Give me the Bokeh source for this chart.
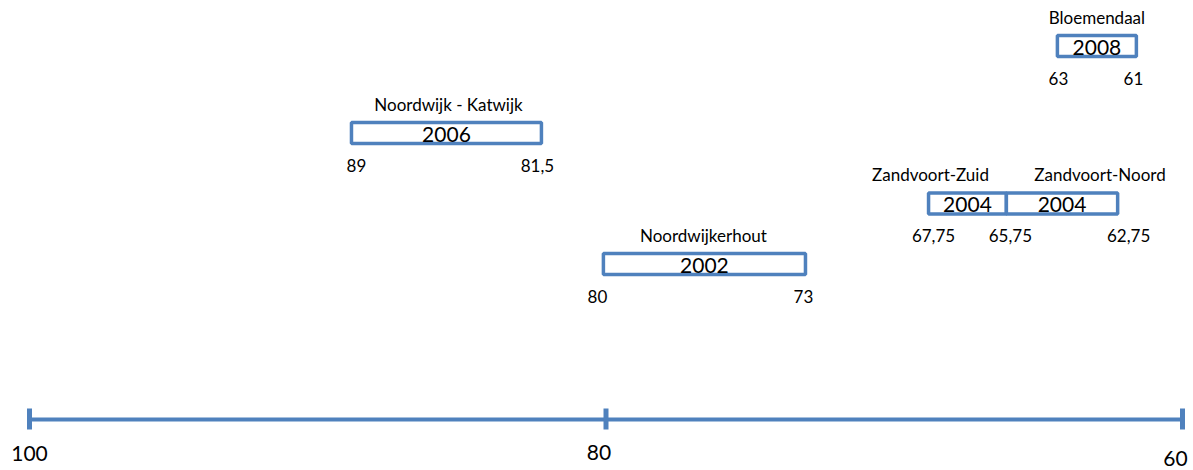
from bokeh.plotting import figure
from bokeh.models import Range1d, ColumnDataSource
from bokeh.core.properties import value
from bokeh.embed import file_html
from bokeh.resources import INLINE

# ---- data (km markers along the coast) ----
sites = ["Noordwijk - Katwijk", "Noordwijkerhout", "Zandvoort-Zuid", "Zandvoort-Noord", "Bloemendaal"]
years = ["2006", "2002", "2004", "2004", "2008"]
km_from = [89, 80, 67.75, 65.75, 63]
km_to = [81.5, 73, 65.75, 62.75, 61]
# box extents as drawn in the picture (km)
box_from_drawn = [88.83, 80.09, 68.81, 66.11, 64.34]
box_to_drawn = [82.24, 73.08, 66.11, 62.25, 61.60]
axis_ticks = [100, 80, 60]
axis_tick_labels = ["100", "80", "60"]

# ---- layout / style ----
W, H = 1193, 470
PX_PER_KM = 28.825
BLUE = "#4F81BD"
FONT = "Lato"
row_y = [132.5, 263.5, 203.0, 203.0, 45.5]       # box centre (px from top)
box_half = 10.5
title_dy = -29
label_dy = 32
title_dx = [2, -1, -37, 38, 0]
label_dx_left = [5, -6, 5, None, 1]
label_dx_right = [-4, -2, 4, 11, -3]
axis_y = 419

def fmt(v):
    return f"{v:g}".replace(".", ",")

p = figure(width=W, height=H, output_backend="svg", toolbar_location=None,
           x_range=Range1d(100 + 29 / PX_PER_KM, 60 - (W - 1182) / PX_PER_KM),
           y_range=Range1d(H, 0),
           x_axis_type=None, y_axis_type=None, min_border=0)
p.outline_line_color = None
p.background_fill_color = "white"

# boxes
bsrc = ColumnDataSource(dict(
    left=box_from_drawn, right=box_to_drawn,
    top=[y - box_half for y in row_y], bottom=[y + box_half for y in row_y],
    cx=[(a + b) / 2 for a, b in zip(box_from_drawn, box_to_drawn)],
    cy=row_y, year=years, site=sites,
    ty=[y + title_dy for y in row_y], tdx=title_dx,
))
p.quad(left="left", right="right", top="top", bottom="bottom", source=bsrc,
       fill_color="white", line_color=BLUE, line_width=3.5)
p.text(x="cx", y="cy", text="year", source=bsrc, text_align="center",
       text_baseline="middle", text_font=value(FONT), text_font_size="21px",
       text_color="#000000", y_offset=1)
p.text(x="cx", y="ty", text="site", source=bsrc, x_offset="tdx", text_align="center",
       text_baseline="middle", text_font=value(FONT), text_font_size="17px",
       text_color="#000000")

# km labels under the boxes
lx, ly, lt, ldx = [], [], [], []
for i in range(len(sites)):
    if label_dx_left[i] is not None:
        lx.append(box_from_drawn[i]); ly.append(row_y[i] + label_dy)
        lt.append(fmt(km_from[i])); ldx.append(label_dx_left[i])
    lx.append(box_to_drawn[i]); ly.append(row_y[i] + label_dy)
    lt.append(fmt(km_to[i])); ldx.append(label_dx_right[i])
p.text(x=lx, y=ly, text=lt, x_offset=ldx, text_align="center", text_baseline="middle",
       text_font=value(FONT), text_font_size="17px", text_color="#000000")

# axis line with ticks
p.segment(x0=[axis_ticks[0]], y0=[axis_y], x1=[axis_ticks[-1]], y1=[axis_y],
          line_color=BLUE, line_width=4)
p.segment(x0=axis_ticks, y0=[axis_y - 11] * 3, x1=axis_ticks, y1=[axis_y + 10] * 3,
          line_color=BLUE, line_width=5)
p.text(x=axis_ticks, y=[axis_y + 34, axis_y + 33, axis_y + 39], text=axis_tick_labels,
       x_offset=[0, -7, -7], text_align="center", text_baseline="middle",
       text_font=value(FONT), text_font_size="21px", text_color="#000000")

open("out.html", "w").write(file_html(p, INLINE))
